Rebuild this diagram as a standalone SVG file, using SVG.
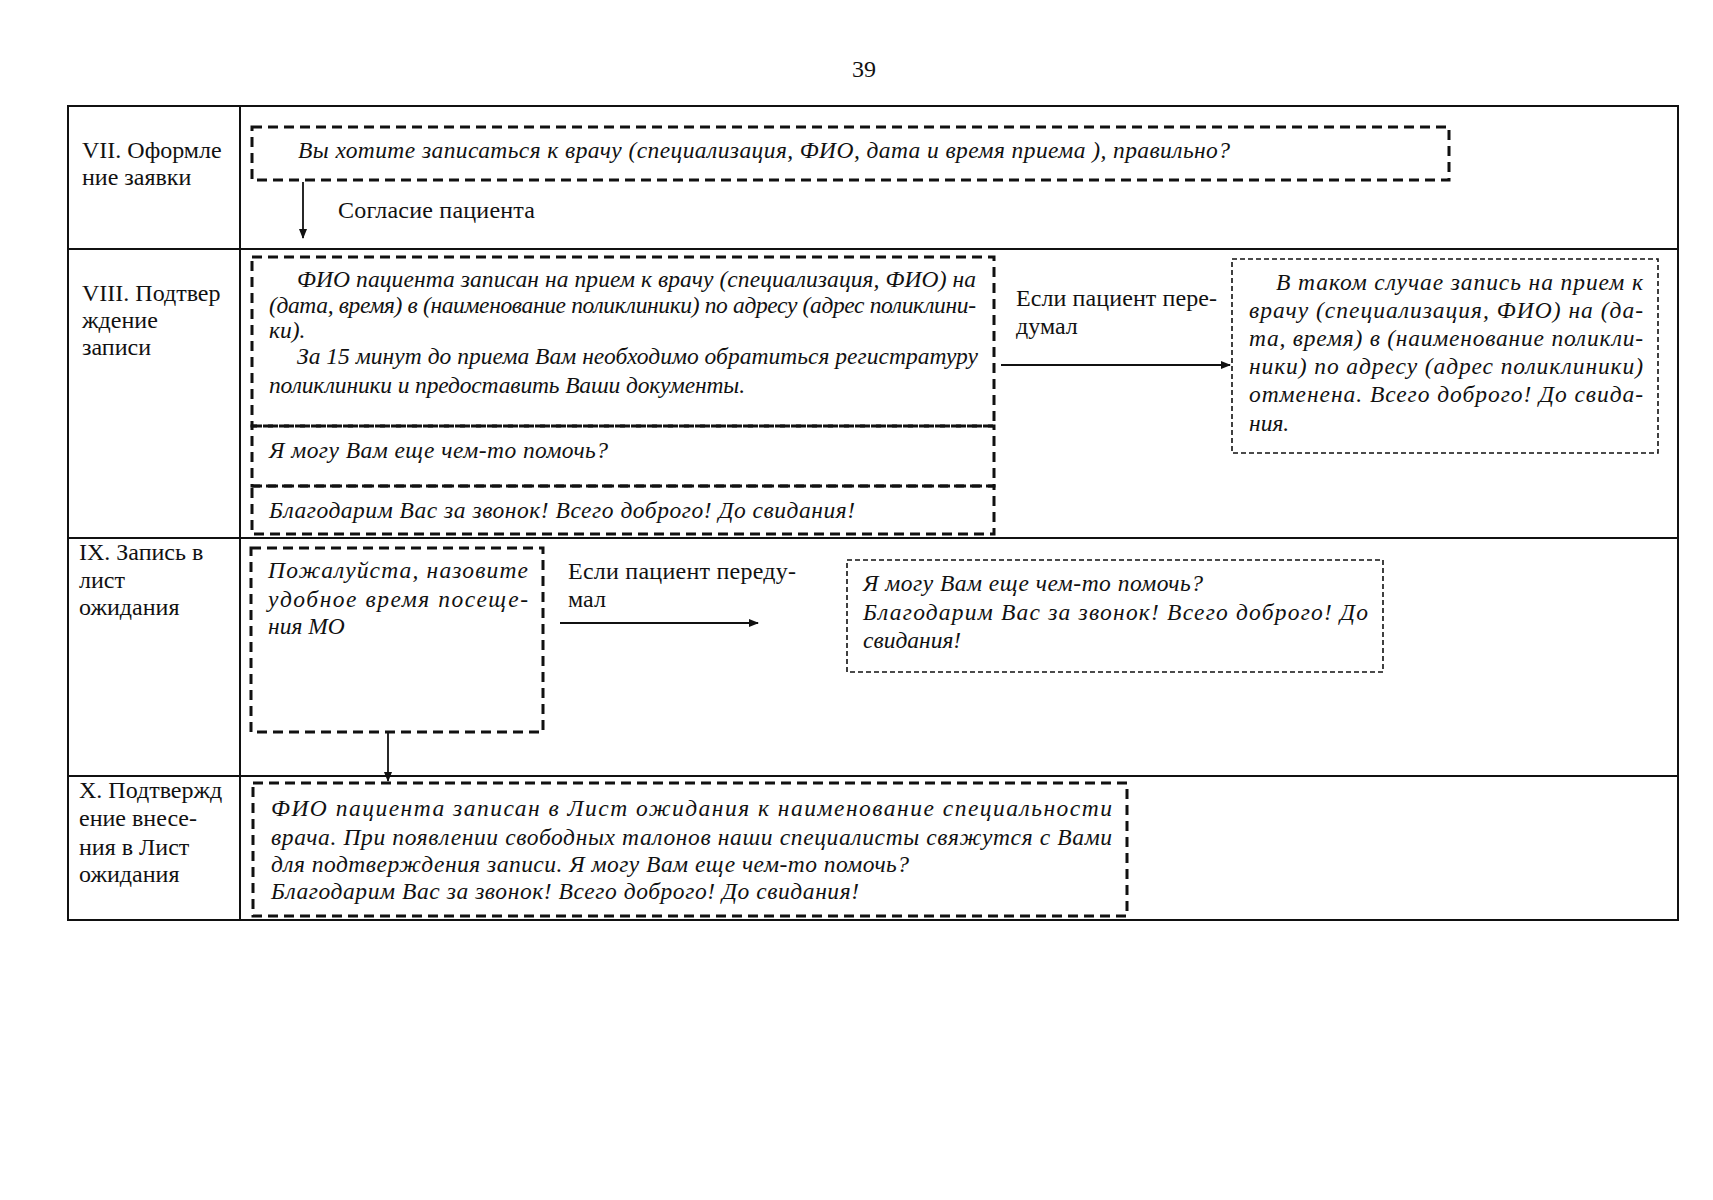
<svg xmlns="http://www.w3.org/2000/svg" width="1713" height="1200" viewBox="0 0 1713 1200">
<style>
text{font-family:"Liberation Serif","DejaVu Serif",serif;fill:#111}
.lbl{font-size:24px}
.it{font-size:23.5px;font-style:italic}
.grid{stroke:#111;stroke-width:2;fill:none}
.bold{fill:none;stroke:#111;stroke-width:3;stroke-dasharray:10 6}
.fine{fill:none;stroke:#111;stroke-width:1.6;stroke-dasharray:5 3}
.conn{stroke:#111;stroke-width:1.8;fill:none}
</style>
<defs>
<marker id="ah" markerWidth="10" markerHeight="8" refX="9" refY="4" orient="auto" markerUnits="userSpaceOnUse">
<path d="M0,0 L10,4 L0,8 Z" fill="#111"/>
</marker>
</defs>
<rect width="1713" height="1200" fill="#fff"/>
<text class="lbl" x="864" y="77" text-anchor="middle">39</text>

<g id="table">
<rect class="grid" x="68" y="106" width="1610" height="814"/>
<line class="grid" x1="68" y1="249" x2="1678" y2="249"/>
<line class="grid" x1="68" y1="538" x2="1678" y2="538"/>
<line class="grid" x1="68" y1="776" x2="1678" y2="776"/>
<line class="grid" x1="240" y1="106" x2="240" y2="920"/>
</g>

<g id="label-VII"><text class="lbl" x="82" y="158">VII. Оформле</text><text class="lbl" x="82" y="185">ние заявки</text></g>
<g id="label-VIII"><text class="lbl" x="82" y="301">VIII. Подтвер</text><text class="lbl" x="82" y="328">ждение</text><text class="lbl" x="82" y="355">записи</text></g>
<g id="label-IX"><text class="lbl" x="79" y="560">IX. Запись в</text><text class="lbl" x="79" y="588">лист</text><text class="lbl" x="79" y="615">ожидания</text></g>
<g id="label-X"><text class="lbl" x="79" y="798">X. Подтвержд</text><text class="lbl" x="79" y="826">ение  внесе-</text><text class="lbl" x="79" y="855">ния в Лист</text><text class="lbl" x="79" y="882">ожидания</text></g>

<g id="box-VII">
<rect class="bold" x="252" y="127" width="1197" height="53"/>
<text class="it" x="298" y="158" textLength="932">Вы хотите записаться к врачу (специализация, ФИО, дата и время приема ), правильно?</text>
</g>

<g id="box-VIII-a">
<rect class="bold" x="252" y="257" width="742" height="169"/>
<text class="it" x="297" y="287" textLength="679">ФИО  пациента записан на прием к врачу (специализация, ФИО) на</text>
<text class="it" x="269" y="313" textLength="707">(дата, время) в (наименование поликлиники) по адресу (адрес поликлини-</text>
<text class="it" x="269" y="338">ки).</text>
<text class="it" x="297" y="364" textLength="681">За 15 минут до приема Вам необходимо обратиться регистратуру</text>
<text class="it" x="269" y="393" textLength="476">поликлиники и  предоставить Ваши документы.</text>
</g>
<g id="box-VIII-b">
<rect class="bold" x="252" y="426" width="742" height="60"/>
<text class="it" x="269" y="458" textLength="339">Я могу Вам еще чем-то помочь?</text>
</g>
<g id="box-VIII-c">
<rect class="bold" x="252" y="486" width="742" height="48"/>
<text class="it" x="269" y="518" textLength="586">Благодарим Вас за звонок!  Всего доброго! До свидания!</text>
</g>

<g id="box-VIII-cancel">
<rect class="fine" x="1232" y="259" width="426" height="194"/>
<text class="it" x="1276" y="290" textLength="367">В таком случае запись на прием к</text>
<text class="it" x="1249" y="318" textLength="394">врачу (специализация, ФИО) на (да-</text>
<text class="it" x="1249" y="346" textLength="394">та, время) в (наименование поликли-</text>
<text class="it" x="1249" y="374" textLength="394">ники) по адресу (адрес поликлиники)</text>
<text class="it" x="1249" y="402" textLength="394">отменена. Всего доброго! До свида-</text>
<text class="it" x="1249" y="431">ния.</text>
</g>

<g id="box-IX">
<rect class="bold" x="251" y="548" width="292" height="184"/>
<text class="it" x="268" y="578" textLength="260">Пожалуйста,   назовите</text>
<text class="it" x="268" y="607" textLength="260">удобное  время  посеще-</text>
<text class="it" x="268" y="634">ния МО</text>
</g>

<g id="box-IX-end">
<rect class="fine" x="847" y="560" width="536" height="112"/>
<text class="it" x="863" y="591" textLength="340">Я могу Вам еще чем-то помочь?</text>
<text class="it" x="863" y="620" textLength="505">Благодарим Вас за звонок!   Всего доброго! До</text>
<text class="it" x="863" y="648">свидания!</text>
</g>

<g id="box-X">
<rect class="bold" x="253" y="783" width="874" height="133"/>
<text class="it" x="271" y="816" textLength="841">ФИО   пациента записан в Лист ожидания к наименование специальности</text>
<text class="it" x="271" y="845" textLength="841">врача. При появлении свободных талонов наши специалисты свяжутся с Вами</text>
<text class="it" x="271" y="872" textLength="638">для подтверждения записи. Я могу Вам еще чем-то помочь?</text>
<text class="it" x="271" y="899" textLength="588">Благодарим Вас за звонок!  Всего доброго! До свидания!</text>
</g>

<g id="connectors">
<line class="conn" x1="303" y1="182" x2="303" y2="238" marker-end="url(#ah)"/>
<text class="lbl" x="338" y="218" textLength="197">Согласие пациента</text>
<line class="conn" x1="1001" y1="365" x2="1230" y2="365" marker-end="url(#ah)"/>
<text class="lbl" x="1016" y="306" textLength="201">Если пациент пере-</text>
<text class="lbl" x="1016" y="334">думал</text>
<line class="conn" x1="560" y1="623" x2="758" y2="623" marker-end="url(#ah)"/>
<text class="lbl" x="568" y="579" textLength="228">Если пациент переду-</text>
<text class="lbl" x="568" y="607">мал</text>
<line class="conn" x1="388" y1="732" x2="388" y2="781" marker-end="url(#ah)"/>
</g>
</svg>
